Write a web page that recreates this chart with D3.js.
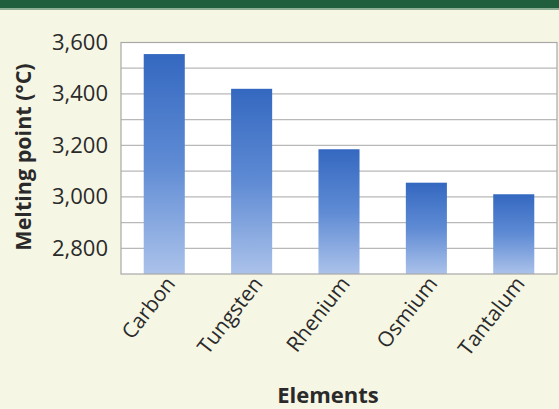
<!DOCTYPE html>
<html>
<head>
<meta charset="utf-8">
<script src="https://cdn.jsdelivr.net/npm/d3@7"></script>
<style>
  body { margin: 0; background: #f6f6e4; }
  svg { display: block; font-family: "Open Sans", "Noto Sans", sans-serif; }
</style>
</head>
<body>
<svg width="559" height="409"></svg>
<script>
// data
var elements = ["Carbon", "Tungsten", "Rhenium", "Osmium", "Tantalum"];
var meltingPoints = [3555, 3420, 3185, 3055, 3010];
var yTicks = [2800, 3000, 3200, 3400, 3600];
var yGrid = [2800, 2900, 3000, 3100, 3200, 3300, 3400, 3500];

var svg = d3.select("svg"),
    plotLeft = 121, plotRight = 557, plotTop = 42.5, plotBottom = 274;

// dark green strip at the top
svg.append("rect").attr("x", 0).attr("y", 0).attr("width", 559).attr("height", 8).attr("fill", "#1f5f3e");
svg.append("rect").attr("x", 0).attr("y", 8).attr("width", 559).attr("height", 2).attr("fill", "#8fae96");

var defs = svg.append("defs");
var grad = defs.append("linearGradient").attr("id", "barGrad")
  .attr("x1", 0).attr("y1", 0).attr("x2", 0).attr("y2", 1);
grad.append("stop").attr("offset", "0%").attr("stop-color", "#3468c0");
grad.append("stop").attr("offset", "50%").attr("stop-color", "#5f8bd4");
grad.append("stop").attr("offset", "100%").attr("stop-color", "#abc2ea");

var xScale = d3.scaleBand().domain(elements).range([plotLeft, plotRight]).paddingInner(0.53).paddingOuter(0.26),
    yScale = d3.scaleLinear().domain([2700, 3600]).range([plotBottom, plotTop]);

// plot area
svg.append("rect")
  .attr("x", plotLeft).attr("y", plotTop)
  .attr("width", plotRight - plotLeft).attr("height", plotBottom - plotTop)
  .attr("fill", "#ffffff");

svg.selectAll(".grid")
  .data(yGrid)
  .enter().append("line")
  .attr("class", "grid")
  .attr("x1", plotLeft).attr("x2", plotRight)
  .attr("y1", function(d) { return yScale(d); })
  .attr("y2", function(d) { return yScale(d); })
  .attr("stroke", "#b8b8b8")
  .attr("stroke-width", 1.2);

svg.selectAll(".bar")
  .data(meltingPoints)
  .enter().append("rect")
  .attr("class", "bar")
  .attr("x", function(d, i) { return xScale(elements[i]); })
  .attr("y", function(d) { return yScale(d); })
  .attr("width", xScale.bandwidth())
  .attr("height", function(d) { return plotBottom - yScale(d); })
  .attr("fill", "url(#barGrad)");

svg.append("rect")
  .attr("x", plotLeft).attr("y", plotTop)
  .attr("width", plotRight - plotLeft).attr("height", plotBottom - plotTop)
  .attr("fill", "none")
  .attr("stroke", "#a8a8a8")
  .attr("stroke-width", 1.2);

// y axis labels
var yAxis = svg.append("g")
  .attr("transform", "translate(" + plotLeft + ",0)")
  .call(d3.axisLeft(yScale).tickValues(yTicks).tickSize(0).tickPadding(13).tickFormat(d3.format(",")));
yAxis.select(".domain").remove();
yAxis.selectAll("text")
  .attr("font-size", "22px")
  .attr("fill", "#2a2a2a")
  .attr("font-family", "'Open Sans', sans-serif");

// x axis labels
var xAxis = svg.append("g")
  .attr("transform", "translate(0," + plotBottom + ")")
  .call(d3.axisBottom(xScale).tickSize(0).tickPadding(0));
xAxis.select(".domain").remove();
xAxis.selectAll("text")
  .attr("font-size", "21px")
  .attr("fill", "#2a2a2a")
  .attr("font-family", "'Open Sans', sans-serif")
  .attr("text-anchor", "end")
  .attr("dy", "0")
  .attr("transform", "translate(12,10) rotate(-52)");

// axis titles
svg.append("text")
  .attr("transform", "translate(31,157) rotate(-90)")
  .attr("text-anchor", "middle")
  .attr("font-size", "21.5px")
  .attr("font-weight", "bold")
  .attr("fill", "#2a2a2a")
  .text("Melting point (°C)");

svg.append("text")
  .attr("x", 328)
  .attr("y", 403)
  .attr("text-anchor", "middle")
  .attr("font-size", "22px")
  .attr("font-weight", "bold")
  .attr("fill", "#2a2a2a")
  .text("Elements");
</script>
</body>
</html>
